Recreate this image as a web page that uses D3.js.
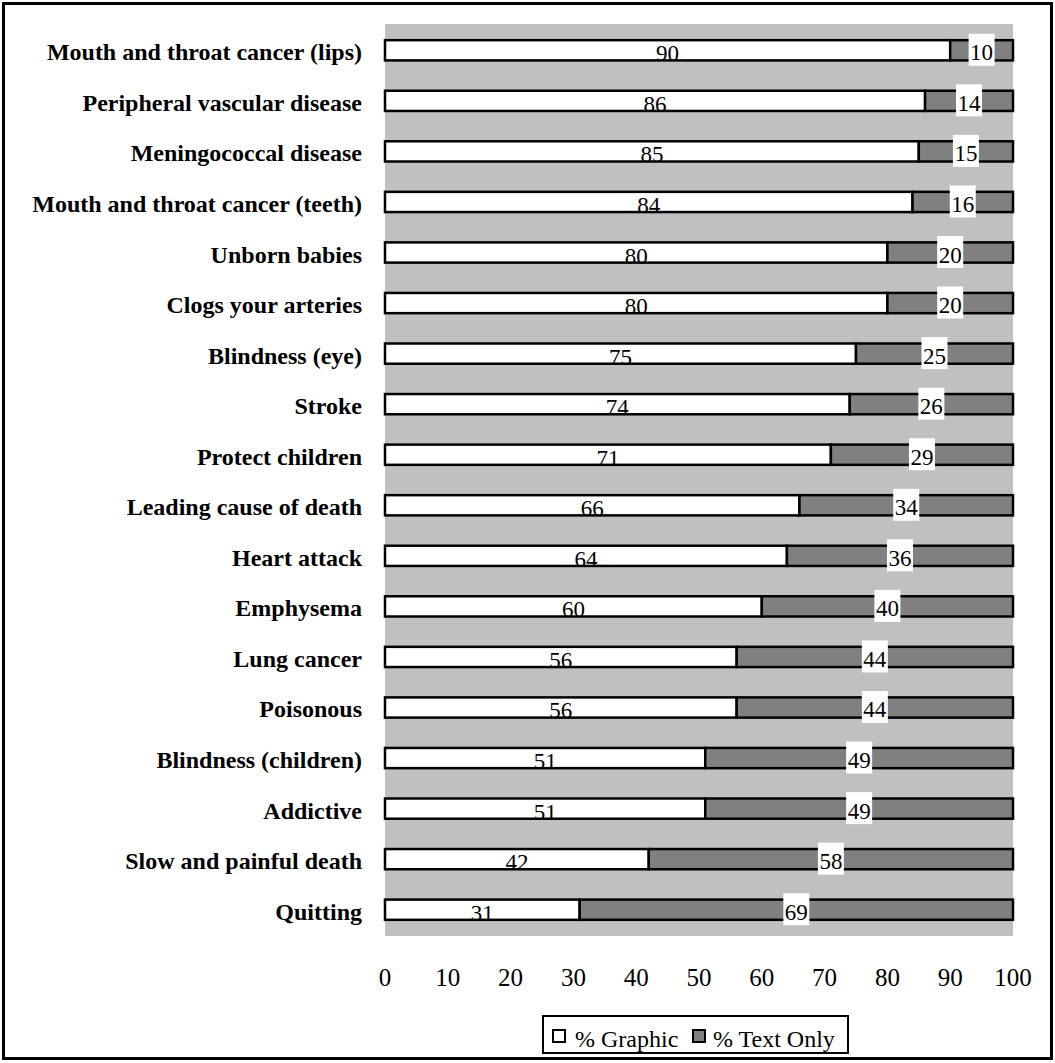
<!DOCTYPE html>
<html>
<head>
<meta charset="utf-8">
<script src="https://cdn.jsdelivr.net/npm/d3@7/dist/d3.min.js"></script>
<style>
  html, body { margin: 0; padding: 0; background: #fff; }
  svg { display: block; }
  text { font-family: "Liberation Serif", "Times New Roman", serif; }
</style>
</head>
<body>
<div id="chart"></div>
<script>
const categories = [
  "Mouth and throat cancer (lips)",
  "Peripheral vascular disease",
  "Meningococcal disease",
  "Mouth and throat cancer (teeth)",
  "Unborn babies",
  "Clogs your arteries",
  "Blindness (eye)",
  "Stroke",
  "Protect children",
  "Leading cause of death",
  "Heart attack",
  "Emphysema",
  "Lung cancer",
  "Poisonous",
  "Blindness (children)",
  "Addictive",
  "Slow and painful death",
  "Quitting"
];
const graphic  = [90, 86, 85, 84, 80, 80, 75, 74, 71, 66, 64, 60, 56, 56, 51, 51, 42, 31];
const textOnly = [10, 14, 15, 16, 20, 20, 25, 26, 29, 34, 36, 40, 44, 44, 49, 49, 58, 69];
const xTicks = [0, 10, 20, 30, 40, 50, 60, 70, 80, 90, 100];
const seriesNames = ["% Graphic", "% Text Only"];

const W = 1055, H = 1063;
const svg = d3.select("#chart").append("svg").attr("width", W).attr("height", H);

// outer frame
svg.append("rect").attr("x", 3.5).attr("y", 3.5).attr("width", 1048).attr("height", 1055)
  .attr("fill", "#fff").attr("stroke", "#000").attr("stroke-width", 3);

const plot = { left: 385, right: 1013, top: 24, bottom: 936 };
const x = d3.scaleLinear().domain([0, 100]).range([plot.left, plot.right]);
const y = d3.scaleBand().domain(categories).range([plot.top, plot.bottom])
  .paddingInner(0.6).paddingOuter(0.32).align(0.5);

svg.append("rect").attr("x", plot.left).attr("y", plot.top)
  .attr("width", plot.right - plot.left).attr("height", plot.bottom - plot.top)
  .attr("fill", "#c0c0c0");

const rows = categories.map((c, i) => ({ c, g: graphic[i], t: textOnly[i] }));
const bh = y.bandwidth();

// graphic bars
svg.append("g").selectAll("rect").data(rows).join("rect")
  .attr("x", d => x(0)).attr("y", d => y(d.c))
  .attr("width", d => x(d.g) - x(0)).attr("height", bh)
  .attr("fill", "#ffffff").attr("stroke", "#000").attr("stroke-width", 2.5);

// text only bars
svg.append("g").selectAll("rect").data(rows).join("rect")
  .attr("x", d => x(d.g)).attr("y", d => y(d.c))
  .attr("width", d => x(d.g + d.t) - x(d.g)).attr("height", bh)
  .attr("fill", "#808080").attr("stroke", "#000").attr("stroke-width", 2.5);

// graphic labels
svg.append("g").selectAll("text").data(rows).join("text")
  .attr("x", d => (x(0) + x(d.g)) / 2).attr("y", d => y(d.c) + bh / 2 + 11)
  .attr("text-anchor", "middle").attr("font-size", 23).attr("fill", "#000")
  .text(d => d.g);

// text-only labels with white boxes
const tl = svg.append("g").selectAll("g").data(rows).join("g")
  .attr("transform", d => `translate(${(x(d.g) + x(d.g + d.t)) / 2},${y(d.c) + bh / 2})`);
tl.append("rect").attr("x", -13).attr("y", -16.5).attr("width", 26).attr("height", 32).attr("fill", "#fff");
tl.append("text").attr("x", 0).attr("y", 10).attr("text-anchor", "middle")
  .attr("font-size", 23).attr("fill", "#000").text(d => d.t);

// category labels
svg.append("g").selectAll("text").data(rows).join("text")
  .attr("x", 362).attr("y", d => y(d.c) + bh / 2 + 10)
  .attr("text-anchor", "end").attr("font-size", 24).attr("font-weight", "bold")
  .attr("fill", "#000").text(d => d.c);

// x tick labels
svg.append("g").selectAll("text").data(xTicks).join("text")
  .attr("x", d => x(d)).attr("y", 986)
  .attr("text-anchor", "middle").attr("font-size", 25).attr("fill", "#000")
  .text(d => d);

// legend
const lg = svg.append("g");
lg.append("rect").attr("x", 543).attr("y", 1016).attr("width", 305).attr("height", 37)
  .attr("fill", "#fff").attr("stroke", "#000").attr("stroke-width", 2);
const legendItems = [
  { name: seriesNames[0], fill: "#ffffff", mx: 553, tx: 575 },
  { name: seriesNames[1], fill: "#808080", mx: 693, tx: 713 }
];
lg.selectAll("rect.m").data(legendItems).join("rect").attr("class", "m")
  .attr("x", d => d.mx).attr("y", 1030).attr("width", 12).attr("height", 12)
  .attr("fill", d => d.fill).attr("stroke", "#000").attr("stroke-width", 2);
lg.selectAll("text").data(legendItems).join("text")
  .attr("x", d => d.tx).attr("y", 1047).attr("font-size", 24).attr("fill", "#000")
  .text(d => d.name);
</script>
</body>
</html>
